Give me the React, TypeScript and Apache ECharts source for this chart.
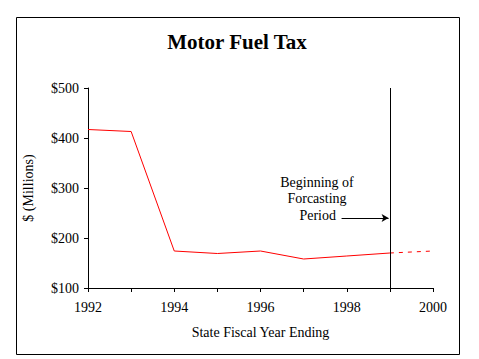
import React, { useEffect, useRef } from "react";
import * as echarts from "echarts";

const years = [1992, 1993, 1994, 1995, 1996, 1997, 1998, 1999];
const actualValues = [417, 413, 174, 169, 174, 158, 164, 170];
const forecastYears = [1999, 2000];
const forecastValues = [170, 174];
const forecastStartYear = 1999;
const annotationLines = ["Beginning of", "Forcasting", "Period"];
const arrowFrom = [1997.88, 240];
const arrowTo = [1998.97, 240];

const FONT = "'Liberation Serif', 'Times New Roman', serif";

export default function App() {
  const ref = useRef<HTMLDivElement>(null);
  useEffect(() => {
    if (!ref.current) return;
    const chart = echarts.init(ref.current, null, { renderer: "svg" });
    const solid = years.map((y, i) => [y, actualValues[i]]);
    const dashed = forecastYears.map((y, i) => [y, forecastValues[i]]);
    chart.setOption({
      animation: false,
      backgroundColor: "#ffffff",
      grid: { left: 88, top: 88, right: 46, bottom: 71 },
      xAxis: {
        type: "value",
        min: 1992,
        max: 2000,
        interval: 1,
        name: "State Fiscal Year Ending",
        nameLocation: "middle",
        nameGap: 37,
        nameTextStyle: { color: "#000", fontFamily: FONT, fontSize: 14 },
        axisLine: { lineStyle: { color: "#000", width: 1 } },
        axisTick: { show: true, length: 4, lineStyle: { color: "#000" } },
        axisLabel: {
          color: "#000",
          fontFamily: FONT,
          fontSize: 14,
          margin: 12,
          formatter: (v: number) => (v % 2 === 0 ? String(v) : ""),
        },
        splitLine: { show: false },
      },
      yAxis: {
        type: "value",
        min: 100,
        max: 500,
        interval: 100,
        name: "$ (Millions)",
        nameLocation: "middle",
        nameGap: 53,
        nameRotate: 90,
        nameTextStyle: { color: "#000", fontFamily: FONT, fontSize: 14 },
        axisLine: { show: true, lineStyle: { color: "#000", width: 1 } },
        axisTick: { show: true, length: 4, lineStyle: { color: "#000" } },
        axisLabel: {
          color: "#000",
          fontFamily: FONT,
          fontSize: 14,
          margin: 9,
          formatter: (v: number) => "$" + v,
        },
        splitLine: { show: false },
      },
      series: [
        {
          type: "line",
          data: solid,
          symbol: "none",
          lineStyle: { color: "#ff0000", width: 1 },
          markLine: {
            silent: true,
            symbol: ["none", "none"],
            label: { show: false },
            lineStyle: { color: "#000", width: 1, type: "solid" },
            data: [
              { xAxis: forecastStartYear },
              [
                { coord: arrowFrom, symbol: "none" },
                { coord: arrowTo, symbol: "arrow", symbolSize: [6, 7] },
              ],
            ],
          },
        },
        {
          type: "line",
          data: dashed,
          symbol: "none",
          lineStyle: { color: "#ff0000", width: 1, type: [4, 5] },
        },
      ],
      graphic: [
        {
          type: "rect",
          shape: { x: 16.5, y: 17.5, width: 443, height: 337 },
          style: { fill: "none", stroke: "#000", lineWidth: 1 },
          silent: true,
        },
        {
          type: "text",
          x: 237,
          y: 42,
          style: {
            text: "Motor Fuel Tax",
            font: `bold 21px ${FONT}`,
            fill: "#000",
            textAlign: "center",
            textVerticalAlign: "middle",
          },
        },
        ...annotationLines.map((t, i) => ({
          type: "text",
          x: i === 2 ? 336 : 317,
          y: 182 + i * 16.5,
          style: {
            text: t,
            font: `14px ${FONT}`,
            fill: "#000",
            textAlign: i === 2 ? "right" : "center",
            textVerticalAlign: "middle",
          },
        })),
      ],
    });
    return () => chart.dispose();
  }, []);
  return (
    <div
      ref={ref}
      style={{ position: "fixed", left: 0, top: 0, width: 479, height: 359 }}
    />
  );
}
